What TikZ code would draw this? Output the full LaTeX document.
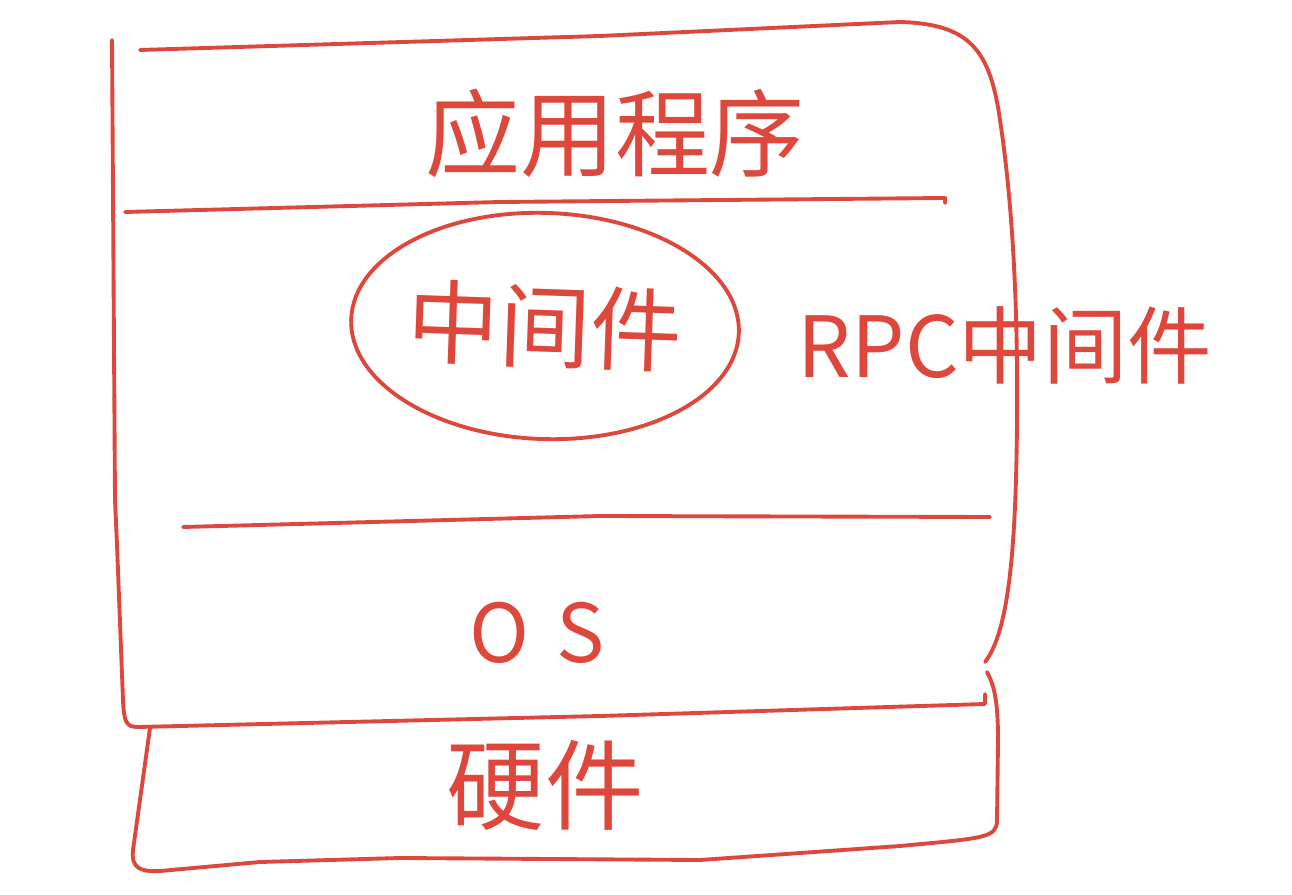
\documentclass[tikz,border=0pt]{standalone}
\usepackage{fontspec}
\setmainfont{Noto Sans CJK SC}
\usetikzlibrary{shapes.geometric}
\definecolor{ink}{RGB}{222,72,60}
\tikzset{
  pen/.style={draw=ink, line width=1.1pt, line cap=round, line join=round},
  lbl/.style={text=ink, inner sep=0pt},
}
\begin{document}
\begin{tikzpicture}[x=0.01cm, y=-0.01cm]
\useasboundingbox (0,0) rectangle (1292,895);
% outer left side and OS-box bottom
\draw[pen] (112,40) -- (115,500) -- (117,545) -- (123,700) .. controls (124,722) and (126,727) .. (138,727) -- (600,716) -- (985,704) -- (985,694);
% top edge and right side
\draw[pen] (140,50) -- (600,36) -- (900,22) .. controls (970,24) and (990,50) .. (1000,120)
  .. controls (1012,200) and (1018,300) .. (1017,420)
  .. controls (1016,540) and (1010,630) .. (985,662);
% separator under applications
\draw[pen] (125,212) -- (500,202) -- (945,198) -- (945,203);
% separator above OS
\draw[pen] (183,527) -- (600,516) -- (990,517);
% hardware box
\draw[pen] (150,728) -- (133,850) .. controls (131,868) and (140,872) .. (160,871)
  -- (260,862) -- (400,858) -- (700,860) -- (900,846) .. controls (985,838) and (997,838) .. (997,820)
  -- (998,740) .. controls (998,700) and (994,685) .. (987,672);
% texts
\node[lbl, font=\fontsize{27}{30}\selectfont] (app) at (615,133) {应用程序};
\node[pen, ellipse, lbl, minimum width=3.8cm, minimum height=2.26cm, rotate=-2, font=\fontsize{26}{30}\selectfont] (mw) at (545,326) {中间件};
\node[lbl, font=\fontsize{24}{28}\selectfont] (rpc) at (1005,345) {RPC中间件};
\node[lbl, font=\fontsize{23}{28}\selectfont] (os) at (537,633) {O\,\,S};
\node[lbl, font=\fontsize{28}{32}\selectfont] (hw) at (545,785) {硬件};
\end{tikzpicture}
\end{document}
